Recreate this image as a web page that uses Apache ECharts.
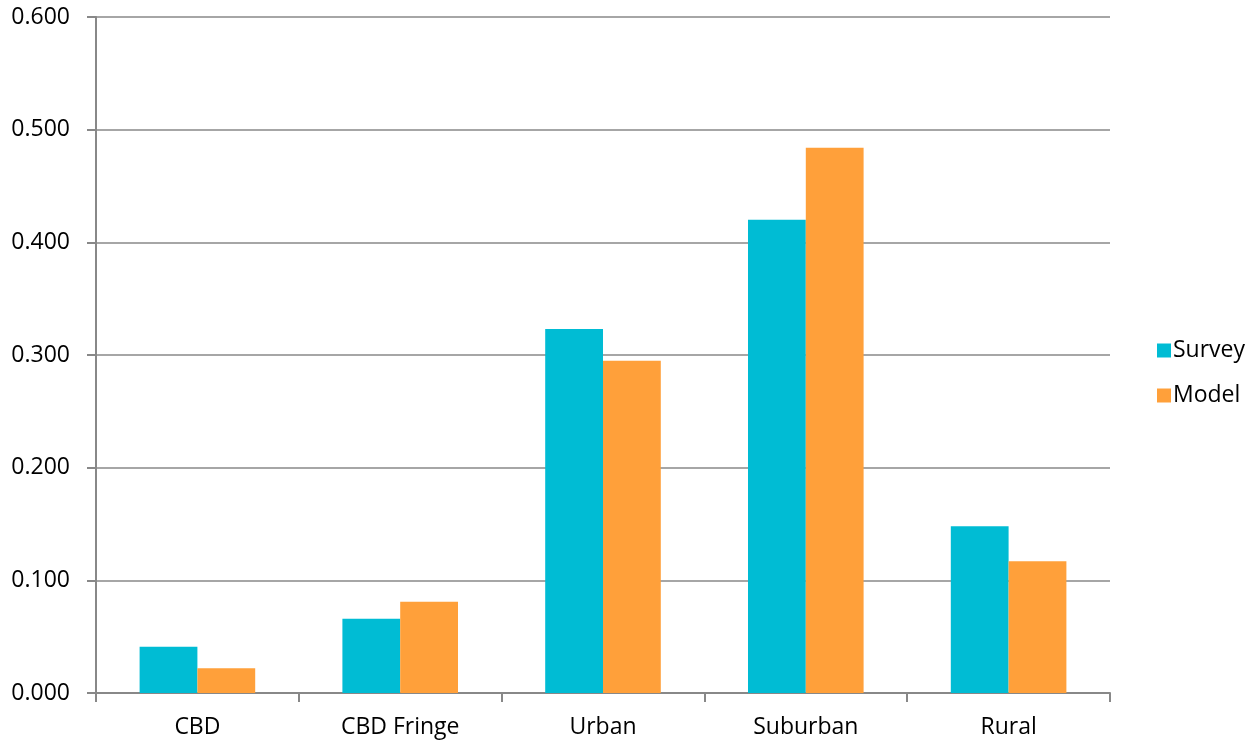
<!DOCTYPE html>
<html><head><meta charset="utf-8">
<script src="https://cdn.jsdelivr.net/npm/echarts@6/dist/echarts.min.js"></script>
<style>html,body{margin:0;padding:0;background:#fff}#c{width:1257px;height:742px}</style>
</head><body><div id="c"></div>
<script>
const categories = ['CBD', 'CBD Fringe', 'Urban', 'Suburban', 'Rural'];
const survey = [0.041, 0.066, 0.323, 0.420, 0.148];
const model = [0.022, 0.081, 0.295, 0.484, 0.117];
const seriesNames = ['Survey', 'Model'];

const chart = echarts.init(document.getElementById('c'), null, {renderer: 'canvas'});
const font = '"Open Sans", Lato, sans-serif';
chart.setOption({
  animation: false,
  grid: {left: 96, right: 147, top: 17, bottom: 49, containLabel: false},
  legend: {
    orient: 'vertical', left: 1152, top: 334, itemWidth: 14, itemHeight: 14, itemGap: 22,
    icon: 'rect',
    textStyle: {fontFamily: font, fontSize: 23, color: '#000', padding: [0, 0, 0, -3]},
    data: seriesNames
  },
  xAxis: {
    type: 'category', data: categories,
    axisLine: {lineStyle: {color: '#888', width: 2}},
    axisTick: {show: true, length: 9, lineStyle: {color: '#888', width: 2}},
    axisLabel: {fontFamily: font, fontSize: 23, color: '#000', margin: 23}
  },
  yAxis: {
    type: 'value', min: 0, max: 0.6, interval: 0.1,
    axisLine: {show: true, lineStyle: {color: '#888', width: 2}},
    axisTick: {show: true, length: 9, lineStyle: {color: '#888', width: 2}},
    splitLine: {lineStyle: {color: '#888', width: 1.5}},
    axisLabel: {fontFamily: font, fontSize: 23, color: '#000', margin: 26, formatter: v => v.toFixed(3)}
  },
  series: [
    {name: seriesNames[0], type: 'bar', data: survey, itemStyle: {color: '#00BCD4'}, barGap: '0%', barCategoryGap: '43%'},
    {name: seriesNames[1], type: 'bar', data: model, itemStyle: {color: '#FFA03A'}, barGap: '0%', barCategoryGap: '43%'}
  ]
});
</script></body></html>
